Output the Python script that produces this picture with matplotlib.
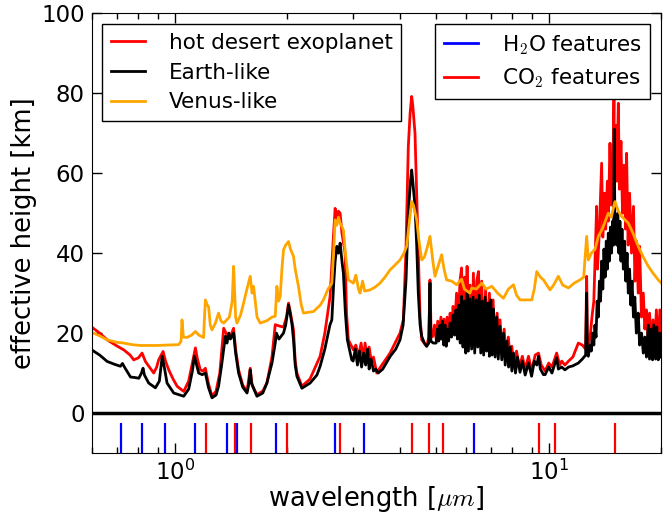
import numpy as np
import matplotlib.pyplot as plt
from matplotlib.lines import Line2D
from matplotlib.ticker import MultipleLocator, NullFormatter

plt.rcParams['mathtext.fontset'] = 'cm'
plt.rcParams['font.size'] = 15

# (wavelength [um], effective height [km])
desert = [
    (0.600, 21.5), (0.63, 20.0), (0.66, 18.3), (0.70, 16.8), (0.731, 15.8), (0.76, 14.5),
    (0.777, 13.3), (0.80, 13.8), (0.818, 15.0), (0.835, 12.9), (0.879, 10.0), (0.895, 11.5),
    (0.906, 13.3), (0.931, 15.4), (0.945, 13.0), (0.964, 10.8), (0.99, 8.5), (1.015, 6.7),
    (1.057, 5.4), (1.09, 8.0), (1.115, 12.5), (1.136, 16.3), (1.15, 13.5), (1.171, 10.8),
    (1.19, 10.5), (1.208, 11.2), (1.23, 7.5), (1.258, 4.2), (1.29, 5.5), (1.32, 10.0),
    (1.352, 21.2), (1.38, 19.5), (1.409, 19.2), (1.437, 21.2), (1.455, 16.0), (1.482, 10.8),
    (1.52, 7.0), (1.561, 5.4), (1.592, 11.2), (1.61, 7.0), (1.659, 4.6), (1.72, 5.5),
    (1.764, 7.5), (1.82, 14.0), (1.857, 22.1), (1.915, 21.7), (1.954, 21.5), (1.99, 24.0),
    (2.015, 27.5), (2.04, 25.0), (2.078, 20.8), (2.10, 13.0), (2.122, 10.0), (2.188, 6.7),
    (2.30, 8.5), (2.448, 14.2), (2.52, 20.0), (2.603, 29.2), (2.66, 45.0), (2.685, 51.2),
    (2.713, 48.0), (2.740, 50.5), (2.769, 50.0), (2.80, 45.0), (2.855, 40.0), (2.88, 25.0),
    (2.913, 18.3), (3.004, 15.8), (3.05, 17.0), (3.10, 14.0), (3.15, 17.5), (3.20, 13.0),
    (3.228, 17.5), (3.27, 14.0), (3.31, 16.5), (3.36, 12.5), (3.40, 14.0), (3.469, 10.0),
    (3.55, 11.5), (3.765, 15.0), (4.003, 20.0), (4.086, 23.3), (4.15, 40.0), (4.213, 66.7),
    (4.26, 75.0), (4.301, 79.2), (4.33, 77.0), (4.390, 70.0), (4.436, 55.0), (4.480, 41.7),
    (4.53, 24.0), (4.575, 18.3), (4.717, 16.7), (4.78, 19.0), (4.814, 33.3), (4.85, 19.0),
    (4.90, 19.2), (4.95, 22.0), (5.00, 18.5), (5.05, 23.0), (5.10, 19.0), (5.15, 24.0),
    (5.20, 18.5), (5.25, 23.5), (5.30, 18.0), (5.35, 24.0), (5.40, 19.0), (5.45, 25.0),
    (5.50, 20.0), (5.55, 26.7), (5.60, 21.0), (5.67, 30.0), (5.72, 20.0), (5.79, 33.0),
    (5.848, 36.3), (5.90, 18.0), (5.96, 34.0), (6.00, 17.0), (6.05, 36.7), (6.10, 17.0),
    (6.16, 32.0), (6.22, 17.0), (6.29, 35.0), (6.35, 16.5), (6.42, 33.0), (6.49, 35.4),
    (6.55, 17.0), (6.62, 33.0), (6.70, 16.0), (6.78, 31.0), (6.86, 16.5), (6.94, 30.0),
    (7.02, 16.0), (7.10, 28.3), (7.19, 15.5), (7.28, 25.0), (7.36, 15.0), (7.41, 23.3),
    (7.50, 14.5), (7.60, 21.0), (7.70, 13.5), (7.80, 19.0), (7.90, 12.5), (7.97, 16.7),
    (8.05, 12.0), (8.20, 15.5), (8.35, 11.5), (8.50, 14.2), (8.65, 11.0), (8.83, 14.2),
    (9.00, 10.5), (9.20, 14.5), (9.39, 15.0), (9.55, 12.0), (9.78, 10.5), (10.0, 12.5),
    (10.2, 11.5), (10.5, 15.0), (10.7, 12.0), (10.83, 13.0), (11.05, 12.0), (11.3, 13.0),
    (11.6, 14.0), (12.0, 17.5), (12.3, 17.0), (12.55, 16.0), (12.63, 34.2), (12.7, 16.0),
    (12.9, 19.0), (13.05, 24.0), (13.2, 28.0), (13.43, 51.7), (13.5, 36.0), (13.65, 45.0),
    (13.85, 62.5), (13.95, 44.0), (14.1, 55.0), (14.2, 46.0), (14.35, 58.0), (14.43, 48.0),
    (14.58, 67.5), (14.7, 52.0), (14.85, 62.0), (14.94, 78.3), (15.0, 60.0), (15.1, 72.0),
    (15.2, 58.0), (15.35, 77.5), (15.45, 56.0), (15.6, 68.0), (15.75, 50.0), (15.9, 62.0),
    (16.05, 46.0), (16.15, 65.0), (16.3, 42.0), (16.45, 55.0), (16.65, 40.0), (16.85, 51.7),
    (17.0, 33.0), (17.15, 43.0), (17.35, 30.0), (17.5, 41.7), (17.7, 24.0), (17.9, 30.0),
    (18.07, 21.0), (18.25, 25.8), (18.46, 17.0), (18.6, 25.0), (18.83, 16.0), (19.0, 23.3),
    (19.2, 16.0), (19.4, 25.8), (19.63, 16.0), (19.82, 25.8), (20.0, 17.0),
]

earth = [
    (0.600, 15.8), (0.63, 14.5), (0.66, 12.9), (0.69, 12.2), (0.716, 11.7), (0.725, 12.4),
    (0.735, 11.4), (0.762, 9.0), (0.78, 8.9), (0.802, 8.7), (0.815, 10.0), (0.823, 11.2),
    (0.83, 9.5), (0.852, 7.5), (0.888, 6.3), (0.91, 8.0), (0.926, 14.2), (0.94, 11.0),
    (0.954, 7.5), (0.994, 5.0), (1.057, 4.2), (1.09, 6.0), (1.115, 10.5), (1.129, 14.2),
    (1.145, 12.0), (1.159, 10.0), (1.185, 9.6), (1.208, 10.0), (1.23, 6.5), (1.258, 3.8),
    (1.29, 4.5), (1.31, 6.7), (1.335, 12.0), (1.366, 19.2), (1.38, 17.5), (1.395, 20.0),
    (1.409, 18.5), (1.437, 20.0), (1.455, 15.0), (1.482, 10.0), (1.52, 6.5), (1.561, 5.0),
    (1.58, 7.5), (1.592, 10.8), (1.605, 7.5), (1.625, 6.2), (1.659, 4.2), (1.72, 5.0),
    (1.764, 7.5), (1.82, 12.5), (1.857, 17.5), (1.87, 20.0), (1.90, 18.5), (1.954, 20.0),
    (1.98, 22.0), (2.002, 25.0), (2.015, 27.0), (2.035, 25.0), (2.06, 22.0), (2.078, 18.3),
    (2.10, 12.0), (2.122, 9.2), (2.188, 6.2), (2.302, 7.5), (2.40, 9.5), (2.448, 11.7),
    (2.52, 16.0), (2.551, 18.3), (2.60, 22.0), (2.631, 23.3), (2.66, 32.0), (2.685, 38.0),
    (2.713, 41.7), (2.74, 40.0), (2.769, 42.5), (2.80, 38.0), (2.825, 35.0), (2.86, 25.0),
    (2.895, 18.3), (2.974, 13.3), (3.00, 13.0), (3.04, 16.0), (3.08, 12.0), (3.12, 15.5),
    (3.16, 11.5), (3.20, 15.0), (3.24, 12.0), (3.28, 16.0), (3.31, 11.0), (3.35, 13.5),
    (3.40, 10.5), (3.45, 11.0), (3.50, 10.0), (3.60, 11.0), (3.77, 14.2), (3.90, 16.0),
    (4.003, 18.3), (4.08, 22.0), (4.154, 33.3), (4.213, 50.0), (4.240, 54.0), (4.27, 58.0),
    (4.301, 60.8), (4.33, 58.0), (4.39, 51.7), (4.436, 42.0), (4.48, 30.0), (4.53, 22.0),
    (4.575, 19.2), (4.65, 17.5), (4.717, 16.7), (4.78, 17.5), (4.814, 32.5), (4.84, 18.0),
    (4.913, 17.5), (5.00, 17.5), (5.04, 21.0), (5.08, 18.0), (5.12, 22.0), (5.16, 18.5),
    (5.20, 23.0), (5.24, 17.0), (5.28, 22.0), (5.32, 16.7), (5.36, 21.0), (5.40, 18.0),
    (5.45, 22.5), (5.50, 19.0), (5.55, 24.5), (5.60, 19.5), (5.65, 25.8), (5.70, 18.5),
    (5.75, 27.0), (5.80, 17.5), (5.848, 29.2), (5.90, 16.5), (5.95, 28.0), (6.00, 15.0),
    (6.05, 30.0), (6.10, 15.5), (6.16, 28.5), (6.22, 16.0), (6.28, 29.0), (6.34, 15.0),
    (6.40, 28.3), (6.46, 16.5), (6.52, 29.5), (6.58, 15.0), (6.64, 28.0), (6.70, 14.5),
    (6.76, 29.0), (6.82, 15.5), (6.88, 27.5), (6.94, 14.2), (7.00, 28.3), (7.06, 14.5),
    (7.12, 26.0), (7.19, 14.0), (7.26, 24.0), (7.33, 13.5), (7.41, 21.7), (7.49, 13.3),
    (7.57, 20.0), (7.65, 12.0), (7.73, 18.0), (7.81, 11.5), (7.89, 16.5), (7.97, 10.5),
    (8.05, 15.0), (8.15, 10.0), (8.25, 14.0), (8.38, 10.2), (8.50, 13.0), (8.65, 9.5),
    (8.83, 12.5), (9.00, 9.2), (9.15, 13.0), (9.29, 12.0), (9.39, 14.2), (9.50, 11.0),
    (9.68, 9.6), (9.78, 9.6), (10.0, 11.5), (10.2, 10.0), (10.5, 13.8), (10.61, 11.0),
    (10.83, 11.5), (11.05, 10.8), (11.3, 11.5), (11.6, 11.8), (12.0, 12.5), (12.3, 13.5),
    (12.55, 14.5), (12.63, 30.0), (12.68, 14.5), (12.76, 14.2), (12.9, 17.0), (13.0, 15.5),
    (13.1, 20.0), (13.2, 17.0), (13.29, 22.0), (13.38, 19.0), (13.47, 28.0), (13.57, 24.0),
    (13.66, 33.0), (13.76, 28.0), (13.85, 38.0), (13.95, 31.0), (14.05, 41.0), (14.15, 34.0),
    (14.25, 43.0), (14.35, 36.0), (14.43, 45.0), (14.52, 38.0), (14.62, 46.5), (14.72, 40.0),
    (14.82, 48.0), (14.9, 42.0), (14.97, 71.0), (15.03, 44.0), (15.1, 49.0), (15.2, 42.0),
    (15.3, 50.0), (15.4, 40.0), (15.5, 48.0), (15.6, 38.0), (15.7, 46.0), (15.83, 36.0),
    (15.95, 43.0), (16.07, 33.0), (16.2, 40.0), (16.32, 30.0), (16.45, 36.0), (16.58, 27.0),
    (16.7, 33.0), (16.85, 24.0), (16.99, 29.0), (17.15, 20.0), (17.35, 25.0), (17.5, 17.0),
    (17.71, 20.0), (17.9, 15.0), (18.07, 19.0), (18.25, 14.0), (18.46, 22.0), (18.6, 13.5),
    (18.8, 21.0), (18.95, 13.3), (19.1, 22.0), (19.3, 13.5), (19.45, 21.5), (19.63, 13.3),
    (19.8, 20.0), (20.0, 14.0),
]

venus = [
    (0.600, 20.2), (0.63, 19.3), (0.66, 18.3), (0.70, 17.7), (0.731, 17.5), (0.77, 17.1),
    (0.81, 16.9), (0.85, 16.9), (0.898, 16.9), (0.95, 17.0), (1.025, 17.1), (1.04, 18.0),
    (1.046, 23.3), (1.055, 19.0), (1.079, 18.9), (1.11, 19.5), (1.136, 20.4), (1.16, 19.5),
    (1.195, 18.9), (1.20, 23.0), (1.208, 28.3), (1.222, 27.0), (1.232, 26.6), (1.245, 22.0),
    (1.258, 20.8), (1.285, 22.5), (1.31, 25.0), (1.33, 23.0), (1.352, 22.5), (1.40, 24.0),
    (1.425, 28.0), (1.437, 36.7), (1.447, 30.0), (1.455, 24.0), (1.467, 22.5), (1.50, 24.5),
    (1.528, 27.5), (1.56, 31.0), (1.592, 34.2), (1.61, 30.0), (1.625, 31.7), (1.66, 24.0),
    (1.693, 22.5), (1.764, 23.1), (1.82, 24.0), (1.857, 24.2), (1.876, 31.7), (1.895, 28.0),
    (1.915, 29.2), (1.935, 36.0), (1.954, 40.8), (1.98, 42.0), (2.015, 42.9), (2.04, 41.0),
    (2.078, 39.2), (2.10, 36.0), (2.142, 31.7), (2.18, 27.0), (2.21, 25.0), (2.35, 25.4),
    (2.45, 27.0), (2.498, 28.3), (2.57, 31.0), (2.631, 32.5), (2.66, 40.0), (2.685, 48.3),
    (2.713, 47.0), (2.740, 49.0), (2.77, 47.5), (2.825, 45.8), (2.86, 40.0), (2.913, 33.3),
    (3.004, 32.5), (3.05, 34.5), (3.10, 31.0), (3.13, 30.0), (3.18, 33.0), (3.22, 30.5),
    (3.329, 30.8), (3.433, 31.5), (3.540, 32.5), (3.65, 34.0), (3.765, 35.8), (3.88, 37.0),
    (4.003, 38.3), (4.10, 40.0), (4.172, 41.7), (4.24, 48.0), (4.301, 52.9), (4.35, 52.0),
    (4.436, 48.3), (4.50, 43.0), (4.575, 38.3), (4.65, 39.0), (4.72, 41.0), (4.814, 44.2),
    (4.90, 38.0), (4.965, 34.2), (5.07, 37.0), (5.172, 39.6), (5.25, 36.0), (5.333, 33.3),
    (5.50, 33.0), (5.672, 32.1), (5.85, 33.5), (5.95, 31.0), (6.154, 30.0), (6.23, 31.3),
    (6.40, 31.0), (6.625, 32.5), (6.80, 31.0), (7.045, 31.7), (7.30, 30.0), (7.569, 28.7),
    (7.80, 31.0), (8.050, 32.1), (8.20, 29.5), (8.383, 28.3), (8.70, 28.3), (9.010, 28.3),
    (9.15, 31.0), (9.290, 35.4), (9.50, 34.0), (9.680, 33.3), (10.08, 30.8), (10.3, 32.0),
    (10.61, 34.2), (10.9, 32.0), (11.29, 31.3), (11.7, 32.5), (12.12, 33.3), (12.4, 34.0),
    (12.63, 44.2), (12.76, 38.3), (13.0, 40.0), (13.3, 41.0), (13.57, 44.2), (13.9, 46.0),
    (14.43, 50.0), (14.7, 49.0), (15.03, 52.9), (15.35, 50.5), (15.66, 49.2), (16.32, 47.5),
    (16.8, 45.0), (17.35, 41.7), (17.9, 39.0), (18.46, 36.7), (19.0, 35.0), (19.63, 33.3),
    (20.0, 32.5),
]

h2o_features = [0.72, 0.82, 0.94, 1.13, 1.38, 1.47, 1.87, 2.69, 3.2, 6.3]
co2_features = [1.21, 1.45, 1.6, 2.0, 2.76, 4.3, 4.8, 5.2, 9.4, 10.4, 15.0]

fig = plt.figure(figsize=(6.68, 5.18), dpi=100)
ax = fig.add_axes([0.1373, 0.1255, 0.8527, 0.8488])

for data, color in [(desert, 'red'), (earth, 'black'), (venus, 'orange')]:
    wl, h = np.array(data).T
    ax.plot(wl, h, color=color, lw=2)

ax.axhline(0, color='black', lw=2.5)
ax.vlines(h2o_features, -10, -2.4, color='blue', lw=1.6)
ax.vlines(co2_features, -10, -2.4, color='red', lw=1.6)

ax.set_xscale('log')
ax.set_xlim(0.6, 20)
ax.set_ylim(-10, 100)
ax.yaxis.set_major_locator(MultipleLocator(20))
ax.xaxis.set_minor_formatter(NullFormatter())
ax.tick_params(which='both', direction='in', top=True, right=True, labelsize=16.5)
ax.tick_params(which='major', length=7, width=1, pad=5)
ax.tick_params(which='minor', length=4, width=1)

ax.set_xlabel(r'wavelength [$\mu m$]', fontsize=18.5, labelpad=-1)
ax.set_ylabel('effective height [km]', fontsize=18.5, labelpad=3)

leg_kw = dict(frameon=True, fancybox=False, edgecolor='black', framealpha=1,
              handlelength=1.6, handletextpad=1.1, borderaxespad=0,
              labelspacing=0.45, fontsize=15.5)
handles1 = [Line2D([], [], color=c, lw=2) for c in ['red', 'black', 'orange']]
leg1 = ax.legend(handles1, ['hot desert exoplanet', 'Earth-like', 'Venus-like'],
                 loc='upper left', bbox_to_anchor=(0.018, 0.975), **leg_kw)
ax.add_artist(leg1)
handles2 = [Line2D([], [], color=c, lw=2) for c in ['blue', 'red']]
ax.legend(handles2, [r'H$_2$O features', r'CO$_2$ features'],
          loc='upper right', bbox_to_anchor=(0.981, 0.975), **leg_kw)

fig.savefig('out.png', dpi=100)
